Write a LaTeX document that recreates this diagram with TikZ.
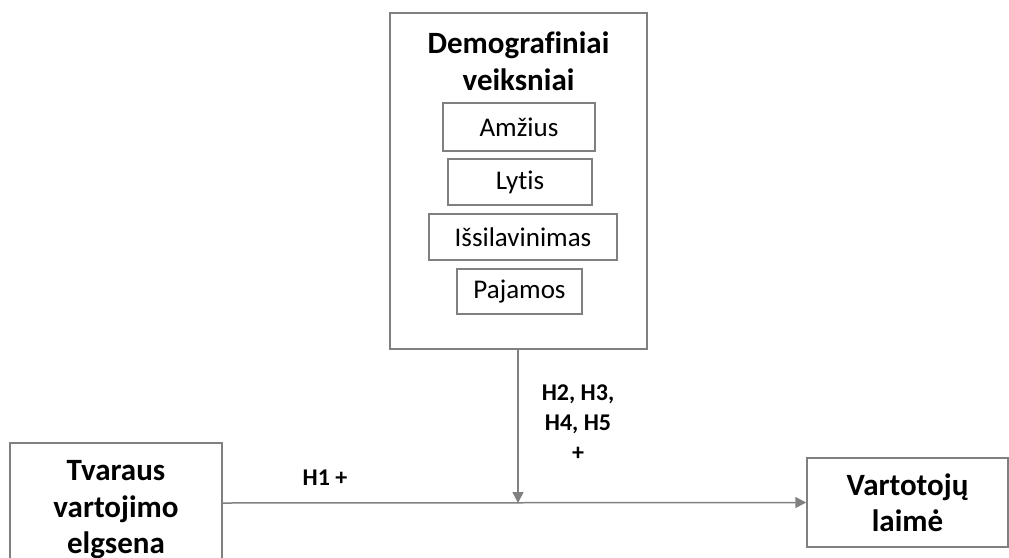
\documentclass[tikz,border=0pt]{standalone}
\usepackage{fontspec}
\setmainfont{Carlito}[Ligatures=NoCommon]
\usepackage{tikz}
\usetikzlibrary{positioning,arrows.meta}
\usepackage{xcolor}
\definecolor{linegray}{RGB}{128,128,128}

\tikzset{
  box/.style={rectangle, draw=linegray, line width=1.5pt, align=center, inner sep=0pt},
  bigtext/.style={font=\bfseries\fontsize{31}{36.5}\selectfont, align=center},
  intext/.style={font=\fontsize{27}{32}\selectfont},
  hlabel/.style={font=\bfseries\fontsize{24}{30}\selectfont, align=center},
  link/.style={draw=linegray, line width=1.5pt, -{Triangle[length=11pt, width=11pt]}}
}

\begin{document}
\begin{tikzpicture}[x=1pt, y=-1pt]
  \useasboundingbox (0,0) rectangle (1009,557);

  % Nodes
  \node[box, minimum width=257pt, minimum height=336pt] (demo) at (518.5,181) {};
  \node[bigtext] (demotitle) at (518.5,61) {Demografiniai\\veiksniai};
  \node[box, intext, minimum width=152pt, minimum height=48pt] (amzius) at (519,127) {Amžius};
  \node[box, intext, minimum width=144pt, minimum height=46pt] (lytis) at (520,182) {Lytis};
  \node[box, intext, minimum width=188pt, minimum height=46pt] (issil) at (523,237) {Išsilavinimas};
  \node[box, intext, minimum width=125pt, minimum height=45pt] (pajamos) at (519.5,291.5) {Pajamos};

  \node[box, bigtext, minimum width=212pt, minimum height=134pt] (tvaraus) at (116,510) {Tvaraus\\vartojimo\\elgsena};
  \node[box, bigtext, minimum width=201pt, minimum height=89pt] (laime) at (907.5,502.5) {Vartotojų\\laimė};

  \coordinate (junction) at (518,503);

  % Arrows
  \draw[link] (tvaraus.east |- junction) -- (laime.west);
  \draw[link] (demo.south -| junction) -- (junction);

  % Labels
  \node[hlabel] (h1) at (325,478) {H1 +};
  \node[hlabel] (h2) at (578,423) {H2, H3,\\H4, H5\\+};

\end{tikzpicture}
\end{document}
